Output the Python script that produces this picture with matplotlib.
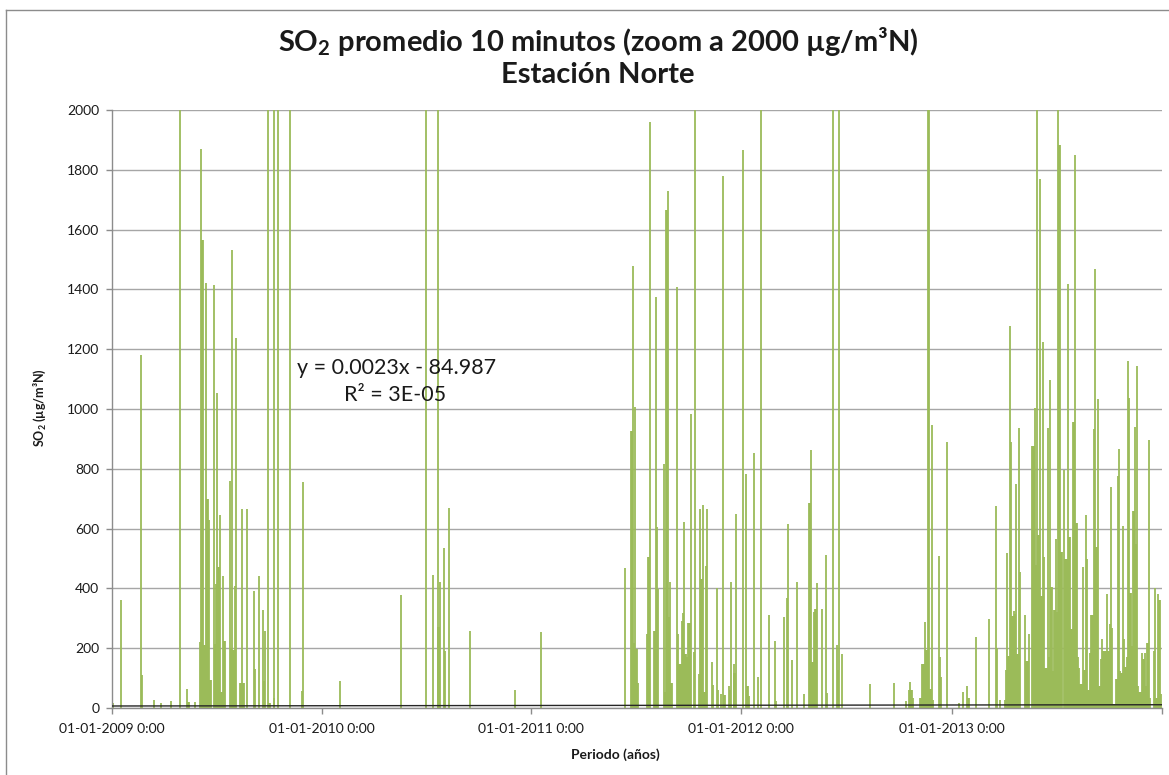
import matplotlib
matplotlib.use("Agg")
import matplotlib.pyplot as plt
import matplotlib.dates as mdates
import numpy as np
import pandas as pd
from matplotlib.lines import Line2D

plt.rcParams["font.family"] = ["Lato", "DejaVu Sans"]
plt.rcParams["mathtext.fontset"] = "custom"
plt.rcParams["mathtext.rm"] = "Lato"
plt.rcParams["mathtext.bf"] = "Lato:bold"

# ---------------------------------------------------------------------------
# 10-minute SO2 peaks at Estación Norte (µg/m3N); readings above 2000 run
# past the top of the zoomed axis
# ---------------------------------------------------------------------------
dates_2009 = ["2009-01-03", "2009-01-17", "2009-02-21", "2009-02-23", "2009-03-16", "2009-03-28",
              "2009-04-14", "2009-04-30", "2009-05-12", "2009-05-15", "2009-05-26", "2009-06-04",
              "2009-06-05", "2009-06-09", "2009-06-11", "2009-06-14", "2009-06-18", "2009-06-20",
              "2009-06-23", "2009-06-28", "2009-06-30", "2009-07-02", "2009-07-04", "2009-07-07",
              "2009-07-09", "2009-07-12", "2009-07-14", "2009-07-18", "2009-07-26", "2009-07-28",
              "2009-07-30", "2009-08-01", "2009-08-03", "2009-08-05", "2009-08-12", "2009-08-16",
              "2009-08-20", "2009-08-25", "2009-09-05", "2009-09-07", "2009-09-14", "2009-09-21",
              "2009-09-23", "2009-09-25", "2009-09-30", "2009-10-04", "2009-10-10", "2009-10-11",
              "2009-10-18", "2009-11-07", "2009-11-28", "2009-11-30"]
so2_2009 = [18, 360, 1180, 111, 26, 18, 24, 2450, 65, 20, 20, 222, 1870, 1565, 210, 1420,
            700, 630, 93, 1415, 213, 416, 1052, 470, 647, 53, 443, 225, 760, 200, 1533, 193,
            408, 1236, 85, 666, 85, 666, 390, 130, 440, 328, 90, 257, 2600, 18, 32, 2300,
            2900, 2200, 57, 755]

dates_2010 = ["2010-02-03", "2010-05-20", "2010-07-02", "2010-07-13", "2010-07-22", "2010-07-23",
              "2010-07-26", "2010-08-02", "2010-08-04", "2010-08-11", "2010-09-16", "2010-12-03"]
so2_2010 = [90, 378, 2500, 446, 2350, 272, 421, 534, 190, 670, 256, 61]

dates_2011 = ["2011-01-18", "2011-06-13", "2011-06-24", "2011-06-26", "2011-06-28", "2011-07-01",
              "2011-07-03", "2011-07-05", "2011-07-21", "2011-07-23", "2011-07-26", "2011-08-03",
              "2011-08-05", "2011-08-07", "2011-08-10", "2011-08-19", "2011-08-21", "2011-08-23",
              "2011-08-26", "2011-08-28", "2011-08-30", "2011-09-02", "2011-09-11", "2011-09-13",
              "2011-09-17", "2011-09-20", "2011-09-22", "2011-09-24", "2011-09-27", "2011-09-29",
              "2011-10-01", "2011-10-05", "2011-10-10", "2011-10-13", "2011-10-19", "2011-10-21",
              "2011-10-23", "2011-10-26", "2011-10-28", "2011-10-31", "2011-11-03", "2011-11-11",
              "2011-11-13", "2011-11-19", "2011-11-21", "2011-11-26", "2011-12-01", "2011-12-03",
              "2011-12-11", "2011-12-13", "2011-12-14", "2011-12-19", "2011-12-20", "2011-12-23"]
so2_2011 = [255, 467, 927, 1477, 218, 1008, 197, 82, 248, 505, 1959, 258, 1373, 604, 398, 817,
            53, 1665, 1728, 305, 422, 82, 1408, 246, 146, 292, 319, 621, 179, 169, 284, 984,
            186, 2400, 113, 664, 432, 680, 53, 475, 667, 155, 76, 401, 60, 46, 1780, 44, 73,
            60, 422, 146, 117, 648]

dates_2012 = ["2012-01-04", "2012-01-10", "2012-01-12", "2012-01-14", "2012-01-23", "2012-01-30",
              "2012-02-04", "2012-02-18", "2012-02-28", "2012-03-02", "2012-03-15", "2012-03-20",
              "2012-03-22", "2012-03-30", "2012-04-07", "2012-04-19", "2012-04-28", "2012-05-02",
              "2012-05-04", "2012-05-07", "2012-05-09", "2012-05-11", "2012-05-21", "2012-05-27",
              "2012-05-29", "2012-06-08", "2012-06-16", "2012-06-18", "2012-06-19", "2012-06-25",
              "2012-08-12", "2012-09-23", "2012-10-13", "2012-10-19", "2012-10-21", "2012-10-24",
              "2012-10-26", "2012-11-07", "2012-11-11", "2012-11-15", "2012-11-17", "2012-11-20",
              "2012-11-22", "2012-11-24", "2012-11-27", "2012-11-30", "2012-12-10", "2012-12-12",
              "2012-12-14", "2012-12-24"]
so2_2012 = [1866, 784, 73, 40, 853, 104, 2700, 312, 223, 24, 305, 369, 616, 159, 422, 46, 684,
            863, 155, 321, 332, 418, 332, 511, 50, 2300, 210, 126, 2500, 179, 80, 85, 24, 60,
            88, 60, 33, 33, 147, 287, 195, 3200, 2400, 64, 946, 25, 508, 170, 104, 891]

dates_2013 = ["2013-01-13", "2013-01-20", "2013-01-27", "2013-01-31", "2013-02-13", "2013-03-06",
              "2013-03-19", "2013-03-21", "2013-03-26", "2013-04-03", "2013-04-05", "2013-04-07",
              "2013-04-10", "2013-04-12", "2013-04-14", "2013-04-17", "2013-04-19", "2013-04-21",
              "2013-04-23", "2013-04-26", "2013-04-28", "2013-04-30", "2013-05-09", "2013-05-12",
              "2013-05-16", "2013-05-21", "2013-05-25", "2013-05-27", "2013-05-30", "2013-06-01",
              "2013-06-03", "2013-06-05", "2013-06-08", "2013-06-10", "2013-06-14", "2013-06-17",
              "2013-06-19", "2013-06-21", "2013-06-24", "2013-06-26", "2013-06-28", "2013-07-01",
              "2013-07-03", "2013-07-05", "2013-07-09", "2013-07-11", "2013-07-16", "2013-07-18",
              "2013-07-21", "2013-07-23", "2013-07-26", "2013-07-28", "2013-07-30", "2013-08-03",
              "2013-08-06", "2013-08-09", "2013-08-11", "2013-08-13", "2013-08-17", "2013-08-20",
              "2013-08-22", "2013-08-24", "2013-08-27", "2013-08-29", "2013-09-01", "2013-09-05",
              "2013-09-07", "2013-09-09", "2013-09-12", "2013-09-15", "2013-09-18", "2013-09-20",
              "2013-09-22", "2013-09-25", "2013-09-28", "2013-09-30", "2013-10-03", "2013-10-05",
              "2013-10-07", "2013-10-10", "2013-10-14", "2013-10-17", "2013-10-19", "2013-10-21",
              "2013-10-23", "2013-10-26", "2013-10-28", "2013-10-30", "2013-11-02", "2013-11-04",
              "2013-11-06", "2013-11-08", "2013-11-10", "2013-11-13", "2013-11-15", "2013-11-17",
              "2013-11-19", "2013-11-21", "2013-11-24", "2013-11-28", "2013-11-30", "2013-12-03",
              "2013-12-05", "2013-12-07", "2013-12-10", "2013-12-12", "2013-12-18", "2013-12-20",
              "2013-12-22", "2013-12-25", "2013-12-29", "2013-12-31"]
so2_2013 = [16, 53, 73, 33, 239, 297, 677, 199, 27, 27, 127, 519, 173, 1276, 891, 309, 323, 315,
            749, 180, 935, 455, 311, 158, 249, 876, 1004, 479, 2600, 578, 1769, 374, 1224, 505,
            135, 935, 171, 1096, 403, 125, 328, 565, 322, 2350, 1884, 523, 797, 499, 499, 1418,
            571, 265, 955, 1851, 617, 171, 135, 81, 473, 127, 647, 499, 59, 184, 311, 932, 1467,
            538, 1033, 72, 164, 232, 190, 190, 381, 190, 282, 739, 269, 13, 98, 775, 867, 125,
            118, 607, 230, 138, 171, 1162, 1036, 383, 206, 660, 939, 548, 1145, 72, 53, 184,
            164, 184, 72, 217, 897, 33, 190, 400, 33, 381, 361, 46]

# Linear trend fitted on the Excel date serial
trend_slope = 0.0023
trend_intercept = -84.987
trend_label = "y = 0.0023x - 84.987"
r2_label = "R² = 3E-05"

year_ticks = ["2009-01-01", "2010-01-01", "2011-01-01", "2012-01-01", "2013-01-01", "2014-01-01"]
year_tick_labels = ["01-01-2009 0:00", "01-01-2010 0:00", "01-01-2011 0:00",
                    "01-01-2012 0:00", "01-01-2013 0:00", ""]

GREEN = "#9BBB59"
GRID = "#A6A6A6"
TEXT = "#1a1a1a"

dates = pd.to_datetime(dates_2009 + dates_2010 + dates_2011 + dates_2012 + dates_2013)
values = np.array(so2_2009 + so2_2010 + so2_2011 + so2_2012 + so2_2013, dtype=float)
xd = mdates.date2num(dates)

fig = plt.figure(figsize=(11.69, 7.75), dpi=100)
ax = fig.add_axes([0.0955, 0.0865, 0.8982, 0.7716])

# consecutive readings only a few days apart merge into a solid mass up to the lower of the two
close = np.diff(xd) <= 4.5
for i in np.nonzero(close)[0]:
    ax.fill_between([xd[i], xd[i + 1]], 0, min(values[i], values[i + 1], 2000),
                    color=GREEN, linewidth=0, zorder=2)

ax.vlines(xd, 0, values, color=GREEN, linewidth=1.3, zorder=2)

# trend line (Excel serial = matplotlib day number + 25569)
x0 = mdates.date2num(pd.Timestamp(year_ticks[0]))
x1 = mdates.date2num(pd.Timestamp(year_ticks[-1]))
tx = np.array([x0, x1])
ty = trend_slope * (tx + 25569) + trend_intercept
ax.plot(tx, ty, color="#262626", linewidth=1.0, zorder=3)

ax.set_xlim(x0, x1)
ax.set_ylim(0, 2000)
ax.set_yticks(np.arange(0, 2001, 200))
ax.set_xticks(mdates.date2num(pd.to_datetime(year_ticks)))
ax.set_xticklabels(year_tick_labels)
ax.grid(axis="y", color=GRID, linewidth=1.0, zorder=0)
ax.set_axisbelow(True)

for side in ("top", "right"):
    ax.spines[side].set_visible(False)
for side in ("left", "bottom"):
    ax.spines[side].set_color("#8C8C8C")
    ax.spines[side].set_linewidth(1.0)

ax.tick_params(axis="y", direction="out", length=4, width=1, color="#8C8C8C",
               labelsize=10, labelcolor=TEXT, pad=5)
ax.tick_params(axis="x", direction="out", length=4, width=1, color="#8C8C8C",
               labelsize=10, labelcolor=TEXT, pad=7)

ax.text(0.2717, 0.5686, trend_label, transform=ax.transAxes, ha="center", va="center",
        fontsize=15.5, color=TEXT)
ax.text(0.2703, 0.5234, r2_label, transform=ax.transAxes, ha="center", va="center",
        fontsize=15.5, color=TEXT)

fig.text(0.5116, 0.9465, r"SO$_{\mathbf{2}}$ promedio 10 minutos (zoom a 2000 µg/m³N)",
         ha="center", va="center", fontsize=21, fontweight="bold", color=TEXT)
fig.text(0.5116, 0.9035, "Estación Norte", ha="center", va="center",
         fontsize=21, fontweight="bold", color=TEXT)

fig.text(0.034, 0.4735, r"SO$_{\mathbf{2}}$ (µg/m³N)", rotation=90, ha="center", va="center",
         fontsize=9, fontweight="bold", color=TEXT)
fig.text(0.526, 0.026, "Periodo (años)", ha="center", va="center",
         fontsize=10, fontweight="bold", color=TEXT)

# chart-area frame
fig.add_artist(Line2D([6 / 1169, 6 / 1169], [0, 1 - 10 / 775], transform=fig.transFigure,
                      color="#8C8C8C", linewidth=1.0))
fig.add_artist(Line2D([6 / 1169, 1], [1 - 10 / 775, 1 - 10 / 775], transform=fig.transFigure,
                      color="#8C8C8C", linewidth=1.0))

fig.savefig("out.png", dpi=100)
